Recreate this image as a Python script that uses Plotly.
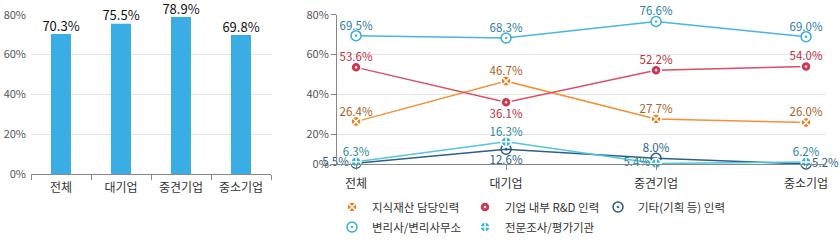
import plotly.graph_objects as go

categories = ["전체", "대기업", "중견기업", "중소기업"]
bar_values = [70.3, 75.5, 78.9, 69.8]

series_names = ["지식재산 담당인력", "기업 내부 R&D 인력", "기타(기획 등) 인력",
                "변리사/변리사무소", "전문조사/평가기관"]
ip_staff = [26.4, 46.7, 27.7, 26.0]
rnd_staff = [53.6, 36.1, 52.2, 54.0]
other_staff = [5.5, 12.6, 8.0, 5.2]
patent_office = [69.5, 68.3, 76.6, 69.0]
research_org = [6.3, 16.3, 5.4, 6.2]
y_ticks = [0, 20, 40, 60, 80]
y_tick_labels = ["0%", "20%", "40%", "60%", "80%"]

FONT = "Noto Sans CJK KR"
W, H = 840, 240

def px_x(p):
    return p / W

def px_y(p):
    return 1 - p / H

fig = go.Figure()

# Left bar chart
fig.add_trace(go.Bar(
    x=categories, y=bar_values, xaxis="x", yaxis="y",
    width=0.333,
    marker=dict(color="#3AAEE4", line=dict(width=0)),
    cliponaxis=False, showlegend=False, hoverinfo="skip",
))
fig.add_trace(go.Scatter(
    x=categories, y=bar_values, xaxis="x", yaxis="y", mode="text",
    text=[f"{v:.1f}%" for v in bar_values], textposition="top center",
    textfont=dict(family=FONT, size=13, color="#111111"),
    cliponaxis=False, showlegend=False, hoverinfo="skip",
))

T, B = "top center", "bottom center"
G = 3.5
styles = [
    dict(vals=ip_staff, line="#F59135", mk="#EE7D1C", sym="circle-x", mline="#FFFFFF",
         tc="#A8642A", pos=[T, T, T, T], gap=[G, G, G, G], lg="legend"),
    dict(vals=rnd_staff, line="#DB4D63", mk="#D0374E", sym="circle-dot", mline="#FFFFFF",
         tc="#B8323F", pos=[T, B, T, T], gap=[G, 10, G, G], lg="legend"),
    dict(vals=other_staff, line="#2E5F8C", mk="#275A86", sym="circle-open-dot", mline="#275A86",
         tc="#2E5F87", pos=["middle left", B, T, "middle right"], gap=[10, 8.5, G, 8], lg="legend"),
    dict(vals=patent_office, line="#4BB3E3", mk="#FFFFFF", sym="circle-dot", mline="#3AACE0",
         tc="#2E7DAA", pos=[T, T, T, T], gap=[G, G, G, G], lg="legend2"),
    dict(vals=research_org, line="#52C6DC", mk="#36B6D2", sym="circle-cross", mline="#FFFFFF",
         tc="#2B8898", pos=[T, T, "middle left", T], gap=[G, G, 8, G], lg="legend2"),
]

xs = list(range(len(categories)))
for name, st in zip(series_names, styles):
    fig.add_trace(go.Scatter(
        x=xs, y=st["vals"], xaxis="x2", yaxis="y2",
        mode="lines+markers",
        line=dict(color=st["line"], width=1.5),
        marker=dict(symbol=st["sym"], size=10, color=st["mk"],
                    line=dict(color=st["mline"], width=1.5)),
        cliponaxis=False, showlegend=False, hoverinfo="skip", name=name,
    ))
for name, st in zip(series_names, styles):
    fig.add_trace(go.Scatter(
        x=xs, y=st["vals"], xaxis="x2", yaxis="y2",
        mode="markers+text",
        marker=dict(size=st["gap"], color="rgba(0,0,0,0)", line=dict(width=0)),
        text=[f"{v:.1f}%" for v in st["vals"]], textposition=st["pos"],
        textfont=dict(family=FONT, size=11.5, color=st["tc"]),
        cliponaxis=False, showlegend=False, hoverinfo="skip",
    ))
for name, st in zip(series_names, styles):
    fig.add_trace(go.Scatter(
        x=[None], y=[None], xaxis="x2", yaxis="y2", mode="markers", name=name,
        marker=dict(symbol=st["sym"], size=10, color=st["mk"],
                    line=dict(color=st["mline"], width=1.5)),
        showlegend=True, legend=st["lg"],
    ))

axis_common = dict(showgrid=False, zeroline=False, fixedrange=True, automargin=False)
legend_common = dict(orientation="h", xanchor="left", yanchor="middle",
                     entrywidth=88, entrywidthmode="pixels", itemwidth=30,
                     font=dict(family=FONT, size=11.5, color="#333333"),
                     bgcolor="rgba(0,0,0,0)")
fig.update_layout(
    width=W, height=H,
    margin=dict(l=0, r=0, t=0, b=0, autoexpand=False),
    paper_bgcolor="white", plot_bgcolor="white",
    font=dict(family=FONT, size=11, color="#444444"),
    xaxis=dict(domain=[px_x(31), px_x(271)], type="category", range=[-0.5, 3.5],
               showline=True, linecolor="#888888", linewidth=1,
               ticks="outside", ticklen=5, tickcolor="#888888", tickson="boundaries",
               tickfont=dict(family=FONT, size=12, color="#333333"), anchor="y",
               ticklabelstandoff=3, **axis_common),
    yaxis=dict(domain=[px_y(174), px_y(14.7)], range=[0, 80],
               tickvals=y_ticks, ticktext=y_tick_labels,
               showgrid=True, gridcolor="#E3E3E3", gridwidth=1, showline=False,
               tickfont=dict(family=FONT, size=11, color="#555555"), anchor="x",
               ticklabelstandoff=4, zeroline=False, fixedrange=True, automargin=False),
    xaxis2=dict(domain=[px_x(337), px_x(826)], range=[-0.127, 3.133],
                tickvals=xs, ticktext=categories,
                showline=True, linecolor="#888888", linewidth=1,
                ticks="outside", ticklen=5, tickcolor="#888888",
                tickfont=dict(family=FONT, size=12, color="#333333"), anchor="y2",
                ticklabelstandoff=3, **axis_common),
    yaxis2=dict(domain=[px_y(164.3), px_y(14.7)], range=[5, 80],
                tickvals=[5, 20, 40, 60, 80], ticktext=y_tick_labels,
                showgrid=True, gridcolor="#E3E3E3", gridwidth=1, showline=True,
                linecolor="#888888", ticks="outside", ticklen=5, tickcolor="#888888",
                tickfont=dict(family=FONT, size=11, color="#555555"), anchor="x2",
                zeroline=False, fixedrange=True, automargin=False),
    legend=dict(x=px_x(332), y=px_y(207), **legend_common),
    legend2=dict(x=px_x(332), y=px_y(227), **legend_common),
    bargap=0.67,
)

fig.write_html("out.html")
